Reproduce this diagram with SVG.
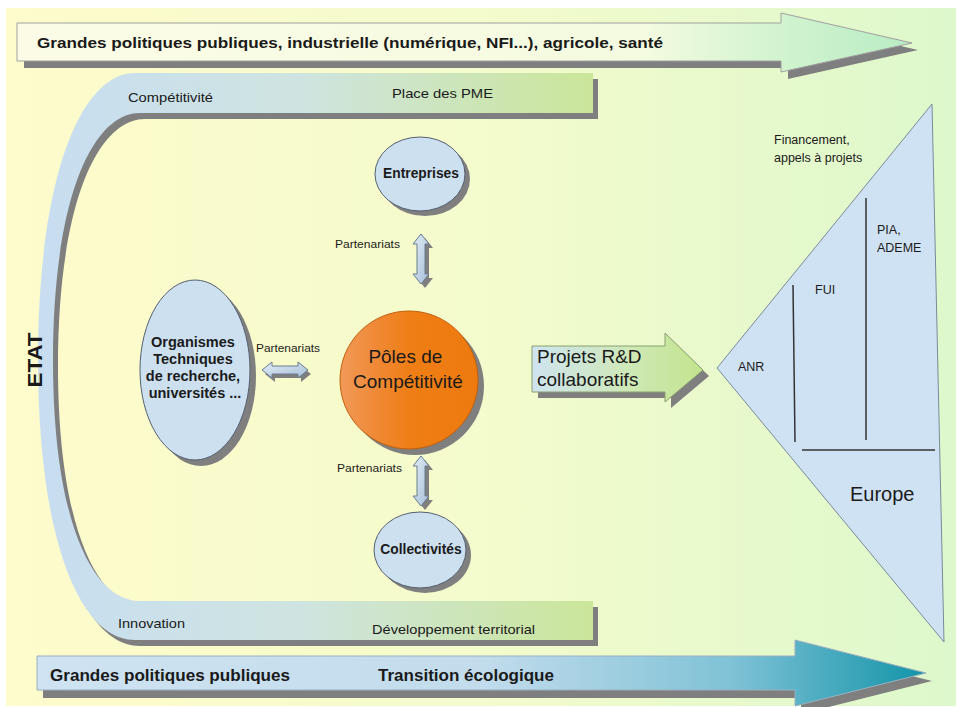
<svg xmlns="http://www.w3.org/2000/svg" width="958" height="707" viewBox="0 0 958 707">
<defs>
<linearGradient id="bg" x1="0" y1="0" x2="1" y2="0">
<stop offset="0" stop-color="#fefbcc"/>
<stop offset="0.5" stop-color="#f4fbcc"/>
<stop offset="1" stop-color="#ddf8cc"/>
</linearGradient>
<linearGradient id="topArrow" gradientUnits="userSpaceOnUse" x1="17" y1="0" x2="912" y2="0">
<stop offset="0" stop-color="#fcfce6"/>
<stop offset="0.7" stop-color="#f4fbe0"/>
<stop offset="0.84" stop-color="#d4f4d0"/>
<stop offset="1" stop-color="#b8ecc4"/>
</linearGradient>
<linearGradient id="botArrow" gradientUnits="userSpaceOnUse" x1="37" y1="0" x2="926" y2="0">
<stop offset="0" stop-color="#cfe3f2"/>
<stop offset="0.5" stop-color="#c2dcec"/>
<stop offset="0.78" stop-color="#80c2d6"/>
<stop offset="1" stop-color="#1394a8"/>
</linearGradient>
<linearGradient id="band" gradientUnits="userSpaceOnUse" x1="60" y1="0" x2="595" y2="0">
<stop offset="0" stop-color="#c8def0"/>
<stop offset="0.45" stop-color="#cfe4e0"/>
<stop offset="1" stop-color="#cbe699"/>
</linearGradient>
<linearGradient id="projets" gradientUnits="userSpaceOnUse" x1="532" y1="0" x2="705" y2="0">
<stop offset="0" stop-color="#cfe4f0"/>
<stop offset="0.55" stop-color="#cfe8b8"/>
<stop offset="1" stop-color="#c4e48c"/>
</linearGradient>
<linearGradient id="orange" x1="0" y1="0" x2="1" y2="0">
<stop offset="0" stop-color="#f09a58"/>
<stop offset="0.25" stop-color="#f08a38"/>
<stop offset="0.5" stop-color="#ef7e16"/>
<stop offset="1" stop-color="#ee7a0e"/>
</linearGradient>
<linearGradient id="dbl" x1="0" y1="0" x2="1" y2="1">
<stop offset="0" stop-color="#e0ecf6"/>
<stop offset="1" stop-color="#a8c0d8"/>
</linearGradient>
<path id="vArrow" d="M0,0 L8,10 L4,10 L4,40 L8,40 L0,50 L-8,40 L-4,40 L-4,10 L-8,10 Z"/>
<path id="hArrow" d="M0,0 L10,-8 L10,-4 L36,-4 L36,-8 L46,0 L36,8 L36,4 L10,4 L10,8 Z"/>
<path id="uband" d="M593,73 L135,73 C80,73 38,180 38,360 C38,540 80,640 135,640 L593,640 L593,601 L140,601 C92,601 53,520 53,360 C53,200 92,113 140,113 L593,113 Z"/>
</defs>
<style>
.shadow{fill:#7f7f7f}
.txt{font-family:"Liberation Sans Narrow","Liberation Sans",Arial,sans-serif;fill:#1a1a1a}
.b{font-weight:bold}
.node{fill:#cce0f0;stroke:#556070;stroke-width:1}
.lbl{font-family:"Liberation Sans",Arial,sans-serif;fill:#1a1a1a}
.dblA{fill:url(#dbl);stroke:#6a7c90;stroke-width:1}
</style>
<rect x="0" y="0" width="958" height="707" fill="#ffffff"/>
<rect x="6" y="8" width="950" height="698" fill="url(#bg)"/>

<g id="top-arrow">
<path class="shadow" d="M24,30 L788,30 L788,20 L918,50 L788,79 L788,68 L24,68 Z"/>
<path d="M17,23 L781,23 L781,13 L912,43 L781,72 L781,61 L17,61 Z" fill="url(#topArrow)" stroke="#a0a0a0" stroke-width="1"/>
<text class="txt b" x="37" y="48" font-size="15" textLength="626" lengthAdjust="spacingAndGlyphs">Grandes politiques publiques, industrielle (numérique, NFI...), agricole, santé</text>
</g>

<g id="etat-band">
<use href="#uband" class="shadow" transform="translate(5,6)"/>
<use href="#uband" fill="url(#band)"/>
<text class="txt" x="128" y="102" font-size="13" textLength="85" lengthAdjust="spacingAndGlyphs">Compétitivité</text>
<text class="txt" x="392" y="98" font-size="13" textLength="101" lengthAdjust="spacingAndGlyphs">Place des PME</text>
<text class="txt" x="118" y="628" font-size="13" textLength="67" lengthAdjust="spacingAndGlyphs">Innovation</text>
<text class="txt" x="372" y="634" font-size="13" textLength="163" lengthAdjust="spacingAndGlyphs">Développement territorial</text>
<text class="lbl b" transform="translate(42,360) rotate(-90)" text-anchor="middle" font-size="20" textLength="55" lengthAdjust="spacingAndGlyphs">ETAT</text>
</g>

<g id="bottom-arrow">
<path class="shadow" d="M43,664 L801,664 L801,648 L932,681 L801,714 L801,698 L43,698 Z"/>
<path d="M37,656 L795,656 L795,640 L926,673 L795,706 L795,690 L37,690 Z" fill="url(#botArrow)" stroke="#9ab0c0" stroke-width="1"/>
<text class="txt b" x="50" y="681" font-size="16" textLength="240" lengthAdjust="spacingAndGlyphs">Grandes politiques publiques</text>
<text class="txt b" x="378" y="681" font-size="16" textLength="176" lengthAdjust="spacingAndGlyphs">Transition écologique</text>
</g>

<g id="entreprises">
<ellipse class="shadow" cx="425" cy="179" rx="45" ry="37"/>
<ellipse class="node" cx="420" cy="174" rx="45" ry="37"/>
<text class="lbl b" x="421" y="178" font-size="13.8" text-anchor="middle">Entreprises</text>
</g>

<g id="collectivites">
<ellipse class="shadow" cx="425" cy="555" rx="46" ry="38"/>
<ellipse class="node" cx="420" cy="550" rx="46" ry="38"/>
<text class="lbl b" x="421" y="554" font-size="13.8" text-anchor="middle">Collectivités</text>
</g>

<g id="organismes">
<ellipse class="shadow" cx="201" cy="376" rx="55" ry="90"/>
<ellipse class="node" cx="195" cy="370" rx="55" ry="90"/>
<text class="lbl b" font-size="14.5" text-anchor="middle">
<tspan x="195" y="347">Organismes</tspan>
<tspan x="195" y="364">Techniques</tspan>
<tspan x="195" y="381">de recherche,</tspan>
<tspan x="195" y="398">universités ...</tspan>
</text>
</g>

<g id="poles">
<circle class="shadow" cx="415" cy="386" r="69"/>
<circle cx="409" cy="380" r="69" fill="url(#orange)" stroke="#c0600c" stroke-width="1"/>
<text class="lbl" font-size="19" text-anchor="middle" fill="#1a1a1a">
<tspan x="408" y="363">Pôles de</tspan>
<tspan x="408" y="388">Compétitivité</tspan>
</text>
</g>

<g id="financement">
<path d="M717,368 L932,104 L944,642 Z" fill="#cfe2f3" stroke="#7a8a9a" stroke-width="1"/>
<line x1="793" y1="285" x2="795" y2="442" stroke="#333" stroke-width="1.5"/>
<line x1="866" y1="198" x2="866" y2="440" stroke="#333" stroke-width="1.5"/>
<line x1="802" y1="450" x2="935" y2="450" stroke="#333" stroke-width="1.5"/>
<text class="lbl" font-size="12.5">
<tspan x="774" y="144">Financement,</tspan>
<tspan x="774" y="162">appels à projets</tspan>
</text>
<text class="lbl" font-size="12.5">
<tspan x="877" y="234">PIA,</tspan>
<tspan x="877" y="252">ADEME</tspan>
</text>
<text class="lbl" x="815" y="294" font-size="12.5">FUI</text>
<text class="lbl" x="738" y="371" font-size="12.5">ANR</text>
<text class="lbl" x="850" y="501" font-size="20">Europe</text>
</g>

<g id="connectors">
<g id="link-entreprises-poles">
<use href="#vArrow" class="shadow" transform="translate(425,238)"/>
<use href="#vArrow" class="dblA" transform="translate(421,234)"/>
<text class="txt" x="335" y="248" font-size="10.5" textLength="65" lengthAdjust="spacingAndGlyphs">Partenariats</text>
</g>
<g id="link-poles-collectivites">
<use href="#vArrow" class="shadow" transform="translate(425,460)"/>
<use href="#vArrow" class="dblA" transform="translate(421,456)"/>
<text class="txt" x="337" y="472" font-size="10.5" textLength="65" lengthAdjust="spacingAndGlyphs">Partenariats</text>
</g>
<g id="link-organismes-poles">
<use href="#hArrow" class="shadow" transform="translate(265,374)"/>
<use href="#hArrow" class="dblA" transform="translate(262,370)"/>
<text class="txt" x="256" y="352" font-size="10.5" textLength="64" lengthAdjust="spacingAndGlyphs">Partenariats</text>
</g>
<g id="link-projets">
<path class="shadow" d="M538,352 L671,352 L671,339 L709,376 L671,408 L671,398 L538,398 Z"/>
<path d="M532,346 L665,346 L665,333 L703,370 L665,402 L665,392 L532,392 Z" fill="url(#projets)" stroke="#8aa070" stroke-width="1"/>
<text class="lbl" font-size="19" fill="#1a1a1a">
<tspan x="537" y="363">Projets R&amp;D</tspan>
<tspan x="537" y="386">collaboratifs</tspan>
</text>
</g>
</g>
</svg>
